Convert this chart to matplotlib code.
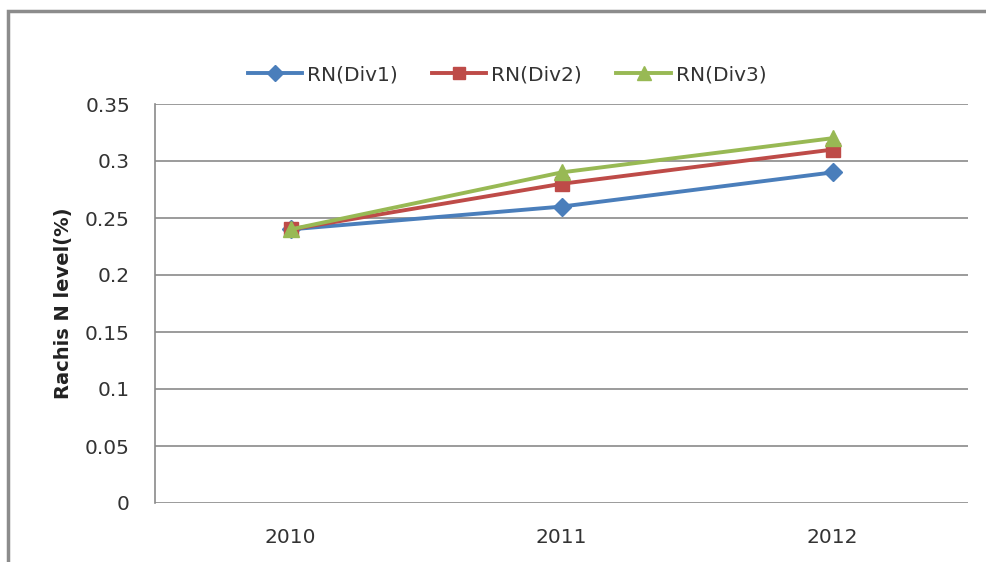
import matplotlib
matplotlib.use('Agg')
import matplotlib.pyplot as plt
from matplotlib.patches import Rectangle

plt.rcParams['font.family'] = ['DejaVu Sans']

# data
years = ['2010', '2011', '2012']
div1 = [0.24, 0.26, 0.29]
div2 = [0.24, 0.28, 0.31]
div3 = [0.24, 0.29, 0.32]
y_ticks = [0, 0.05, 0.1, 0.15, 0.2, 0.25, 0.3, 0.35]
y_tick_labels = ['0', '0.05', '0.1', '0.15', '0.2', '0.25', '0.3', '0.35']

fig = plt.figure(figsize=(9.86, 5.62), dpi=100)
ax = fig.add_axes([155/986, 1 - 503/562, 813/986, 399/562])

x = range(len(years))
ax.plot(x, div1, color='#4A7EBB', lw=2.8, marker='D', ms=9.5, label='RN(Div1)')
ax.plot(x, div2, color='#BE4B48', lw=2.8, marker='s', ms=10, label='RN(Div2)')
ax.plot(x, div3, color='#98B954', lw=2.8, marker='^', ms=11, label='RN(Div3)')

ax.set_xlim(-0.5, 2.5)
ax.set_ylim(0, 0.35)
ax.set_xticks(list(x))
ax.set_xticklabels(years)
ax.set_yticks(y_ticks)
ax.set_yticklabels(y_tick_labels)
ax.tick_params(axis='both', length=0, labelsize=14.5, colors='#333333')
ax.tick_params(axis='y', pad=18)
ax.tick_params(axis='x', pad=18)
ax.grid(axis='y', color='#8a8a8a', lw=1.2)
ax.set_axisbelow(True)
for s in ['top', 'right', 'bottom']:
    ax.spines[s].set_visible(False)
ax.spines['left'].set_color('#8a8a8a')
ax.spines['left'].set_linewidth(1.2)

ax.set_ylabel('Rachis N level(%)', fontsize=14, fontweight='bold',
              color='#222222', labelpad=9)

fig.legend(loc='center', bbox_to_anchor=(507/986, 1 - 75/562), ncol=3,
           frameon=False, fontsize=14.5, handlelength=2.7, columnspacing=1.7,
           handletextpad=0.25, labelcolor='#333333', markerscale=0.9)

# outer chart border (only top and left visible in the crop)
fig.patches.append(Rectangle((8/986, -0.5), 1.5, 1.5 - 11/562,
                             transform=fig.transFigure, fill=False,
                             ec='#8c8c8c', lw=2.5))

fig.savefig('out.png', dpi=100)
